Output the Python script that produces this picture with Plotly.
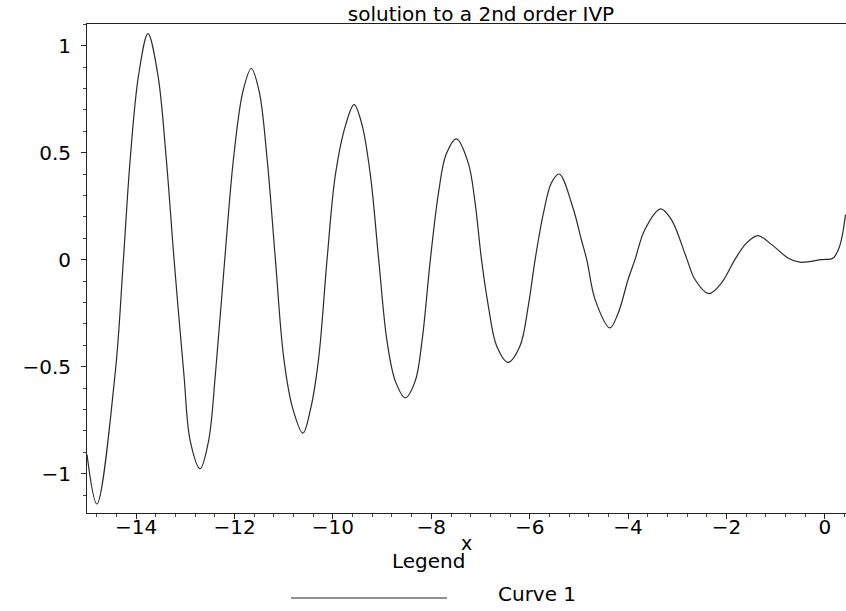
import plotly.graph_objects as go

# Values
x_vals = [-15.00, -14.80, -14.43, -14.26, -14.12, -13.95, -13.76, -13.56, -13.39,
          -13.23, -13.03, -12.90, -12.70, -12.53, -12.39, -12.20, -12.02, -11.83,
          -11.66, -11.50, -11.34, -11.17, -11.00, -10.82, -10.61, -10.45, -10.29,
          -10.12, -9.95, -9.74, -9.57, -9.41, -9.24, -9.07, -8.90, -8.73,
          -8.53, -8.33, -8.19, -8.02, -7.85, -7.70, -7.49, -7.25, -7.11,
          -6.98, -6.84, -6.67, -6.44, -6.20, -6.03, -5.89, -5.72, -5.56,
          -5.40, -5.12, -4.95, -4.84, -4.67, -4.37, -4.20, -4.00, -3.86,
          -3.66, -3.34, -3.12, -2.85, -2.80, -2.64, -2.36, -2.10, -1.83,
          -1.59, -1.36, -1.08, -0.75, -0.51, -0.07, 0.17, 0.30, 0.42]
y_vals = [-0.911, -1.142, -0.537, 0.0, 0.475, 0.864, 1.056, 0.864, 0.475,
          0.0, -0.537, -0.849, -0.977, -0.849, -0.537, 0.0, 0.475, 0.786,
          0.893, 0.786, 0.475, 0.0, -0.460, -0.693, -0.811, -0.693, -0.460,
          0.0, 0.397, 0.631, 0.724, 0.631, 0.397, 0.0, -0.382, -0.569,
          -0.646, -0.569, -0.382, 0.0, 0.319, 0.491, 0.564, 0.452, 0.265,
          0.0, -0.218, -0.405, -0.480, -0.405, -0.218, 0.0, 0.218, 0.358,
          0.400, 0.241, 0.093, 0.0, -0.187, -0.319, -0.249, -0.093, 0.0,
          0.140, 0.237, 0.187, 0.031, 0.0, -0.093, -0.159, -0.109, 0.0,
          0.078, 0.112, 0.070, 0.008, -0.012, 0.0, 0.008, 0.062, 0.210]

title_text = "solution to a 2nd order IVP"
x_label = "x"
legend_title = "Legend"
series_name = "Curve 1"

FONT = "DejaVu Sans"
INK = "#222222"

fig = go.Figure()
fig.add_trace(go.Scatter(
    x=x_vals, y=y_vals, mode="lines", name=series_name,
    line=dict(color="#2a2a2a", width=1.2, shape="spline", smoothing=1.0),
    showlegend=False, hoverinfo="skip",
))

# plot area in the window: 87..846 by 24..513 (body margin removed below)
fig.update_layout(
    width=846, height=611,
    margin=dict(l=87, r=0, t=24, b=98, autoexpand=False),
    paper_bgcolor="white", plot_bgcolor="white",
    font=dict(family=FONT, color="black", size=19),
    title=dict(text=title_text, x=(481 - 87) / 759, xref="paper", xanchor="center",
               y=1 - 14 / 611, yref="container", yanchor="middle",
               font=dict(family=FONT, size=20, color="black")),
    showlegend=False,
)

fig.update_xaxes(
    range=[-15.0, 0.43], showgrid=False, zeroline=False,
    showline=True, linecolor=INK, linewidth=1, mirror=True,
    ticks="outside", ticklen=5, tickcolor=INK, tick0=0, dtick=2,
    minor=dict(ticks="outside", ticklen=3, dtick=0.4, tick0=0, tickcolor="#444444"),
    tickfont=dict(size=20, family=FONT), ticklabelstandoff=-9,
)
fig.update_yaxes(
    range=[-1.184, 1.101], showgrid=False, zeroline=False,
    showline=True, linecolor=INK, linewidth=1,
    ticks="outside", ticklen=5, tickcolor=INK, tick0=0, dtick=0.5,
    minor=dict(ticks="outside", ticklen=3, dtick=0.1, tick0=0, tickcolor="#444444"),
    tickfont=dict(size=20, family=FONT), ticklabelstandoff=6,
)


# window pixel -> paper coordinates
def px_x(p):
    return (p - 87) / 759.0


def px_y(p):
    return (513 - p) / 489.0


fig.add_annotation(text=x_label, x=px_x(466), y=px_y(543), xref="paper", yref="paper",
                   showarrow=False, yanchor="middle", font=dict(size=19, family=FONT))
fig.add_annotation(text=legend_title, x=px_x(428), y=px_y(561), xref="paper", yref="paper",
                   showarrow=False, yanchor="middle", font=dict(size=20, family=FONT))
fig.add_annotation(text=series_name, x=px_x(537), y=px_y(594), xref="paper", yref="paper",
                   showarrow=False, yanchor="middle", font=dict(size=20, family=FONT))
fig.add_shape(type="line", xref="paper", yref="paper",
              x0=px_x(291), x1=px_x(447), y0=px_y(598), y1=px_y(598),
              line=dict(color=INK, width=1))

fig.write_html(
    "out.html",
    config={"displayModeBar": False},
    post_script="document.body.style.margin='0';document.body.style.overflow='hidden';",
)
